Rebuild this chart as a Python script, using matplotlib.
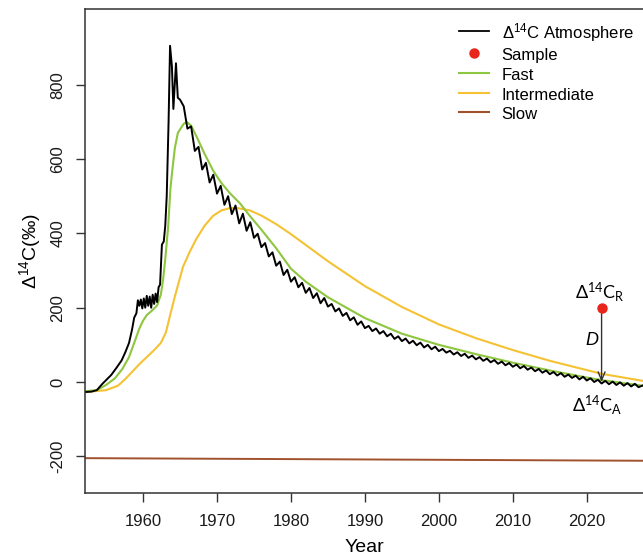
import matplotlib
matplotlib.use("Agg")
import matplotlib.pyplot as plt
from matplotlib.lines import Line2D
import numpy as np

plt.rcParams['font.family'] = ['Liberation Sans', 'DejaVu Sans']
plt.rcParams['mathtext.fontset'] = 'custom'
plt.rcParams['mathtext.rm'] = 'Liberation Sans'
plt.rcParams['mathtext.it'] = 'Liberation Sans:italic'
plt.rcParams['mathtext.sf'] = 'Lato'

# ---------------- data ----------------
atm_year = [1952.15, 1953.0, 1953.75, 1954.5, 1955.0, 1955.7, 1956.4, 1957.1, 1957.6, 1958.1,
            1958.5, 1958.8, 1959.1, 1959.3, 1959.5, 1959.7, 1959.9, 1960.1, 1960.3, 1960.5,
            1960.7, 1960.9, 1961.1, 1961.3, 1961.5, 1961.7, 1961.9, 1962.1, 1962.3, 1962.55,
            1962.8, 1963.0, 1963.2, 1963.45, 1963.65, 1963.9, 1964.1, 1964.45, 1964.7, 1965.0,
            1965.5, 1966.0, 1966.5, 1967.0, 1967.5, 1968.0, 1968.5, 1969.0, 1969.5, 1970.0,
            1970.5, 1971.0, 1971.5, 1972.0, 1972.5, 1973.0, 1973.5, 1974.0, 1974.5, 1975.0,
            1975.5, 1976.0, 1976.5, 1977.0, 1977.5, 1978.0, 1978.5, 1979.0, 1979.5, 1980.0,
            1980.5, 1981.0, 1981.5, 1982.0, 1982.5, 1983.0, 1983.5, 1984.0, 1984.5, 1985.0,
            1985.5, 1986.0, 1986.5, 1987.0, 1987.5, 1988.0, 1988.5, 1989.0, 1989.5, 1990.0,
            1990.5, 1991.0, 1991.5, 1992.0, 1992.5, 1993.0, 1993.5, 1994.0, 1994.5, 1995.0,
            1995.5, 1996.0, 1996.5, 1997.0, 1997.5, 1998.0, 1998.5, 1999.0, 1999.5, 2000.0,
            2000.5, 2001.0, 2001.5, 2002.0, 2002.5, 2003.0, 2003.5, 2004.0, 2004.5, 2005.0,
            2005.5, 2006.0, 2006.5, 2007.0, 2007.5, 2008.0, 2008.5, 2009.0, 2009.5, 2010.0,
            2010.5, 2011.0, 2011.5, 2012.0, 2012.5, 2013.0, 2013.5, 2014.0, 2014.5, 2015.0,
            2015.5, 2016.0, 2016.5, 2017.0, 2017.5, 2018.0, 2018.5, 2019.0, 2019.5, 2020.0,
            2020.5, 2021.0, 2021.5, 2022.0, 2022.5, 2023.0, 2023.5, 2024.0, 2024.5, 2025.0,
            2025.5, 2026.0, 2026.5, 2027.0, 2027.6]
atm_value = [-27, -26, -22, -5, 5, 19, 38, 58, 80, 105,
             140, 173, 185, 220, 205, 222, 198, 225, 200, 232,
             205, 230, 200, 235, 210, 238, 215, 255, 262, 370,
             378, 420, 500, 700, 905, 850, 735, 858, 765, 760,
             742, 682, 688, 622, 633, 572, 590, 537, 558, 507,
             528, 477, 500, 452, 475, 427, 453, 407, 430, 388,
             399, 363, 374, 338, 349, 313, 324, 288, 302, 270,
             282, 255, 267, 240, 253, 226, 239, 212, 226, 203,
             210, 190, 198, 178, 186, 166, 174, 154, 163, 145,
             151, 137, 144, 130, 137, 123, 130, 116, 123, 110,
             117, 104, 111, 99, 106, 93, 100, 88, 95, 83,
             89, 79, 84, 74, 80, 70, 76, 65, 71, 61,
             67, 57, 63, 53, 59, 49, 55, 45, 51, 41,
             47, 37, 43, 33, 39, 29, 35, 25, 31, 21,
             27, 17.5, 24, 14, 20, 11, 17, 7, 14, 4,
             10, 0, 6, -4, 3, -6, 1, -8, -1, -10,
             -3, -12, -5, -14, -9]

fast_year = [1952.15, 1953.75, 1955.0, 1956.2, 1957.2, 1958.1, 1958.8, 1959.5, 1960.0, 1960.5,
             1961.2, 1961.9, 1962.4, 1962.7, 1963.0, 1963.4, 1963.7, 1963.9, 1964.3, 1964.7,
             1965.0, 1965.5, 1965.9, 1966.5, 1967.25, 1968.3, 1969.45, 1970.5, 1971.75, 1973.1,
             1974.4, 1976.0, 1978.0, 1980.0, 1982.0, 1985.0, 1990.0, 1995.0, 2000.0, 2005.0,
             2010.0, 2015.0, 2020.0, 2022.0, 2027.6]
fast_value = [-25, -22, -8, 10, 35, 67, 105, 144, 165, 180,
              192, 206, 235, 274, 330, 420, 520, 560, 630, 670,
              680, 695, 700, 690, 660, 615, 570, 538, 508, 481,
              448, 410, 360, 305, 270, 228, 172, 130, 100, 75,
              52, 31, 12, 5, -10]

inter_year = [1952.15, 1955.0, 1956.6, 1957.6, 1958.6, 1959.5, 1960.5, 1961.5, 1962.4, 1963.1,
              1963.6, 1964.3, 1965.4, 1966.3, 1967.2, 1968.3, 1969.45, 1970.6, 1971.75, 1972.8,
              1974.4, 1976.0, 1978.0, 1980.0, 1985.0, 1990.0, 1995.0, 2000.0, 2005.0, 2010.0,
              2015.0, 2020.0, 2022.0, 2027.6]
inter_value = [-27, -22, -10, 8, 29, 48, 67, 86, 105, 134,
               175, 230, 310, 350, 385, 420, 447, 462, 468, 468,
               462, 448, 425, 398, 325, 258, 202, 155, 118, 86,
               57, 32, 22, 3]

slow_year = [1952.15, 2027.6]
slow_value = [-205, -212]

sample_year = [2022.0]
sample_value = [200]
atm_at_sample = 0

x_ticks = [1960, 1970, 1980, 1990, 2000, 2010, 2020]
y_ticks = [-200, 0, 200, 400, 600, 800]

# ---------------- figure ----------------
W, H = 643, 559
fig = plt.figure(figsize=(W / 100, H / 100), dpi=100)
left, right, top, bottom = 85, 643, 9, 492.7
ax = fig.add_axes([left / W, 1 - bottom / H, (right - left) / W, (bottom - top) / H])

c_atm = '#000000'
c_fast = '#8DC63F'
c_inter = '#F4C233'
c_slow = '#A0522D'
c_red = '#E8251B'

ax.plot(slow_year, slow_value, color=c_slow, lw=1.4, solid_capstyle='butt')
ax.plot(inter_year, inter_value, color=c_inter, lw=1.5)
ax.plot(fast_year, fast_value, color=c_fast, lw=1.5)
ax.plot(atm_year, atm_value, color=c_atm, lw=1.4)

ax.annotate('', xy=(sample_year[0], atm_at_sample), xytext=(sample_year[0], sample_value[0]),
            arrowprops=dict(arrowstyle='->,head_length=0.6,head_width=0.25', color='#333333',
                            lw=1.0, shrinkA=4, shrinkB=0))
ax.plot(sample_year, sample_value, 'o', color=c_red, ms=6.5, zorder=5)

ax.text(sample_year[0] - 0.2, 242, r'$\mathsf{Δ^{14}C_R}$', ha='center', va='center', fontsize=13)
ax.text(sample_year[0] - 1.3, 113, r'$\mathit{D}$', ha='center', va='center', fontsize=13)
ax.text(sample_year[0] - 0.6, -62, r'$\mathsf{Δ^{14}C_A}$', ha='center', va='center', fontsize=13)

ax.set_xlim(1952.15, 2027.6)
ax.set_ylim(-298, 1004)
ax.set_xticks(x_ticks)
ax.set_yticks(y_ticks)
ax.set_xticklabels([str(t) for t in x_ticks])
ax.set_yticklabels([str(t) for t in y_ticks])

for s in ['top', 'left', 'bottom']:
    ax.spines[s].set_color('#333333')
    ax.spines[s].set_linewidth(1.1)
ax.spines['right'].set_visible(False)
ax.tick_params(axis='both', direction='out', length=6.5, width=1.0, color='#333333',
               labelsize=12, labelcolor='#1a1a1a')
ax.tick_params(axis='x', pad=9)
ax.tick_params(axis='y', pad=7.5, labelrotation=90)
for lab in ax.get_yticklabels():
    lab.set_va('center')

fig.text(30 / W, 1 - 251 / H, r'$\Delta^{14}$C(‰)', rotation=90, ha='center', va='center',
         fontsize=14)
fig.text(364 / W, 1 - 548 / H, 'Year', ha='center', va='center', fontsize=14)

handles = [Line2D([], [], color=c_atm, lw=1.3),
           Line2D([], [], ls='none', marker='o', color=c_red, ms=6.5),
           Line2D([], [], color=c_fast, lw=1.5),
           Line2D([], [], color=c_inter, lw=1.5),
           Line2D([], [], color=c_slow, lw=1.5)]
labels = [r'$\Delta^{14}$C Atmosphere', 'Sample', 'Fast', 'Intermediate', 'Slow']
leg = ax.legend(handles, labels, loc='upper left',
                bbox_to_anchor=(459 / W, 1 - 21 / H), bbox_transform=fig.transFigure,
                frameon=False, fontsize=12, handlelength=1.8, handletextpad=0.75,
                handleheight=1.22, labelspacing=0.14, borderaxespad=0.0, borderpad=0.0)

fig.savefig('out.png', dpi=100)
